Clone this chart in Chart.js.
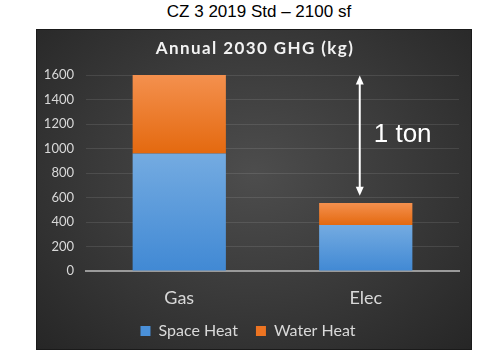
<!DOCTYPE html>
<html lang="en">
<head>
    <meta charset="UTF-8">
    <title>CZ 3 2019 Std - 2100 sf</title>
    <script src="https://cdn.jsdelivr.net/npm/chart.js"></script>
    <style>
        body { margin: 0; width: 500px; height: 353px; background: #fff; position: relative; overflow: hidden; }
        #pageTitle { position: absolute; top: 2px; left: 0; width: 518px; text-align: center;
            font: 17px "Liberation Sans", Arial, sans-serif; color: #000; }
        #panel { position: absolute; left: 36px; top: 29px; width: 436px; height: 321px;
            background: radial-gradient(ellipse at 50% 45%, #4d4d4d 0%, #3a3a3a 50%, #262626 100%);
            border: 1px solid #1a1a1a; box-sizing: border-box; }
        #ghgChart { display: block; }
    </style>
</head>
<body>
    <div id="pageTitle">CZ 3 2019 Std – 2100 sf</div>
    <div id="panel"><canvas id="ghgChart" width="434" height="319"></canvas></div>

    <script>
        const categories = ['Gas', 'Elec'];
        const spaceHeat = [960, 375];
        const waterHeat = [640, 180];
        const yTicks = [0, 200, 400, 600, 800, 1000, 1200, 1400, 1600];
        const chartTitle = 'Annual 2030 GHG (kg)';

        // arrow annotation (data units)
        const arrowTop = 1595;
        const arrowBottom = 615;
        const arrowLabel = '1 ton';
        const arrowLabelY = 1110;

        // gradient over each stacked segment
        function segGradient(ctx, top, bottom) {
            const chart = ctx.chart;
            const y = chart.scales.y;
            if (!chart.chartArea || !y || ctx.type !== 'data') return bottom;
            let base = 0;
            for (let d = 0; d < ctx.datasetIndex; d++) base += chart.data.datasets[d].data[ctx.dataIndex];
            const val = chart.data.datasets[ctx.datasetIndex].data[ctx.dataIndex];
            const g = chart.ctx.createLinearGradient(0, y.getPixelForValue(base + val), 0, y.getPixelForValue(base));
            g.addColorStop(0, top);
            g.addColorStop(1, bottom);
            return g;
        }

        const titlePlugin = {
            id: 'titlePlugin',
            afterDraw(chart) {
                const c = chart.ctx;
                c.save();
                c.font = 'bold 17px Lato, sans-serif';
                c.letterSpacing = '1.4px';
                c.fillStyle = '#f2f2f2';
                c.textAlign = 'center';
                c.textBaseline = 'middle';
                c.fillText(chartTitle, chart.width / 2 + 1, 19);
                c.restore();
            }
        };

        const arrowPlugin = {
            id: 'arrowPlugin',
            afterDatasetsDraw(chart) {
                const c = chart.ctx;
                const x = chart.scales.x.getPixelForValue(1) - 6;
                const y1 = chart.scales.y.getPixelForValue(arrowTop);
                const y2 = chart.scales.y.getPixelForValue(arrowBottom);
                c.save();
                c.strokeStyle = '#fff';
                c.fillStyle = '#fff';
                c.lineWidth = 2;
                c.beginPath();
                c.moveTo(x, y1 + 6);
                c.lineTo(x, y2 - 6);
                c.stroke();
                c.beginPath();
                c.moveTo(x, y1); c.lineTo(x - 4, y1 + 9); c.lineTo(x + 4, y1 + 9); c.closePath();
                c.fill();
                c.beginPath();
                c.moveTo(x, y2); c.lineTo(x - 4, y2 - 9); c.lineTo(x + 4, y2 - 9); c.closePath();
                c.fill();
                c.font = '26px "Liberation Sans", Arial, sans-serif';
                c.textBaseline = 'middle';
                c.fillText(arrowLabel, x + 14, chart.scales.y.getPixelForValue(arrowLabelY));
                c.restore();
            }
        };

        new Chart(document.getElementById('ghgChart'), {
            type: 'bar',
            data: {
                labels: categories,
                datasets: [
                    {
                        label: 'Space Heat',
                        data: spaceHeat,
                        backgroundColor: ctx => segGradient(ctx, '#74abe1', '#4189d4'),
                        borderWidth: 0
                    },
                    {
                        label: 'Water Heat',
                        data: waterHeat,
                        backgroundColor: ctx => segGradient(ctx, '#f4904e', '#e4690f'),
                        borderWidth: 0
                    }
                ]
            },
            options: {
                responsive: false,
                animation: false,
                devicePixelRatio: 1,
                layout: { padding: { left: 0, right: 12, top: 45, bottom: 0 } },
                datasets: { bar: { categoryPercentage: 1, barPercentage: 0.5 } },
                plugins: {
                    title: { display: false },
                    legend: {
                        position: 'bottom',
                        labels: {
                            color: '#d9d9d9',
                            boxWidth: 10,
                            boxHeight: 10,
                            font: { family: 'Lato', size: 16 },
                            padding: 18,
                            generateLabels: chart => chart.data.datasets.map((ds, i) => ({
                                text: ds.label,
                                fillStyle: i === 0 ? '#4a90d9' : '#ed7422',
                                strokeStyle: 'transparent',
                                lineWidth: 0,
                                fontColor: '#d9d9d9',
                                datasetIndex: i
                            }))
                        }
                    },
                    tooltip: { enabled: false }
                },
                scales: {
                    x: {
                        stacked: true,
                        afterFit: scale => { scale.height = 34; },
                        grid: { display: false, drawTicks: false },
                        border: { color: '#9a9a9a', width: 2 },
                        ticks: { color: '#d9d9d9', font: { family: 'Lato', size: 18 }, padding: 16 }
                    },
                    y: {
                        stacked: true,
                        min: 0,
                        max: 1600,
                        afterBuildTicks: scale => { scale.ticks = yTicks.map(v => ({ value: v })); },
                        afterFit: scale => { scale.width = 49; },
                        grid: { color: 'rgba(255,255,255,0.1)', drawTicks: false },
                        border: { display: false },
                        ticks: {
                            color: '#d9d9d9',
                            font: { family: 'Lato', size: 13 },
                            padding: 12,
                            callback: v => String(v)
                        }
                    }
                }
            },
            plugins: [titlePlugin, arrowPlugin]
        });
    </script>
</body>
</html>
